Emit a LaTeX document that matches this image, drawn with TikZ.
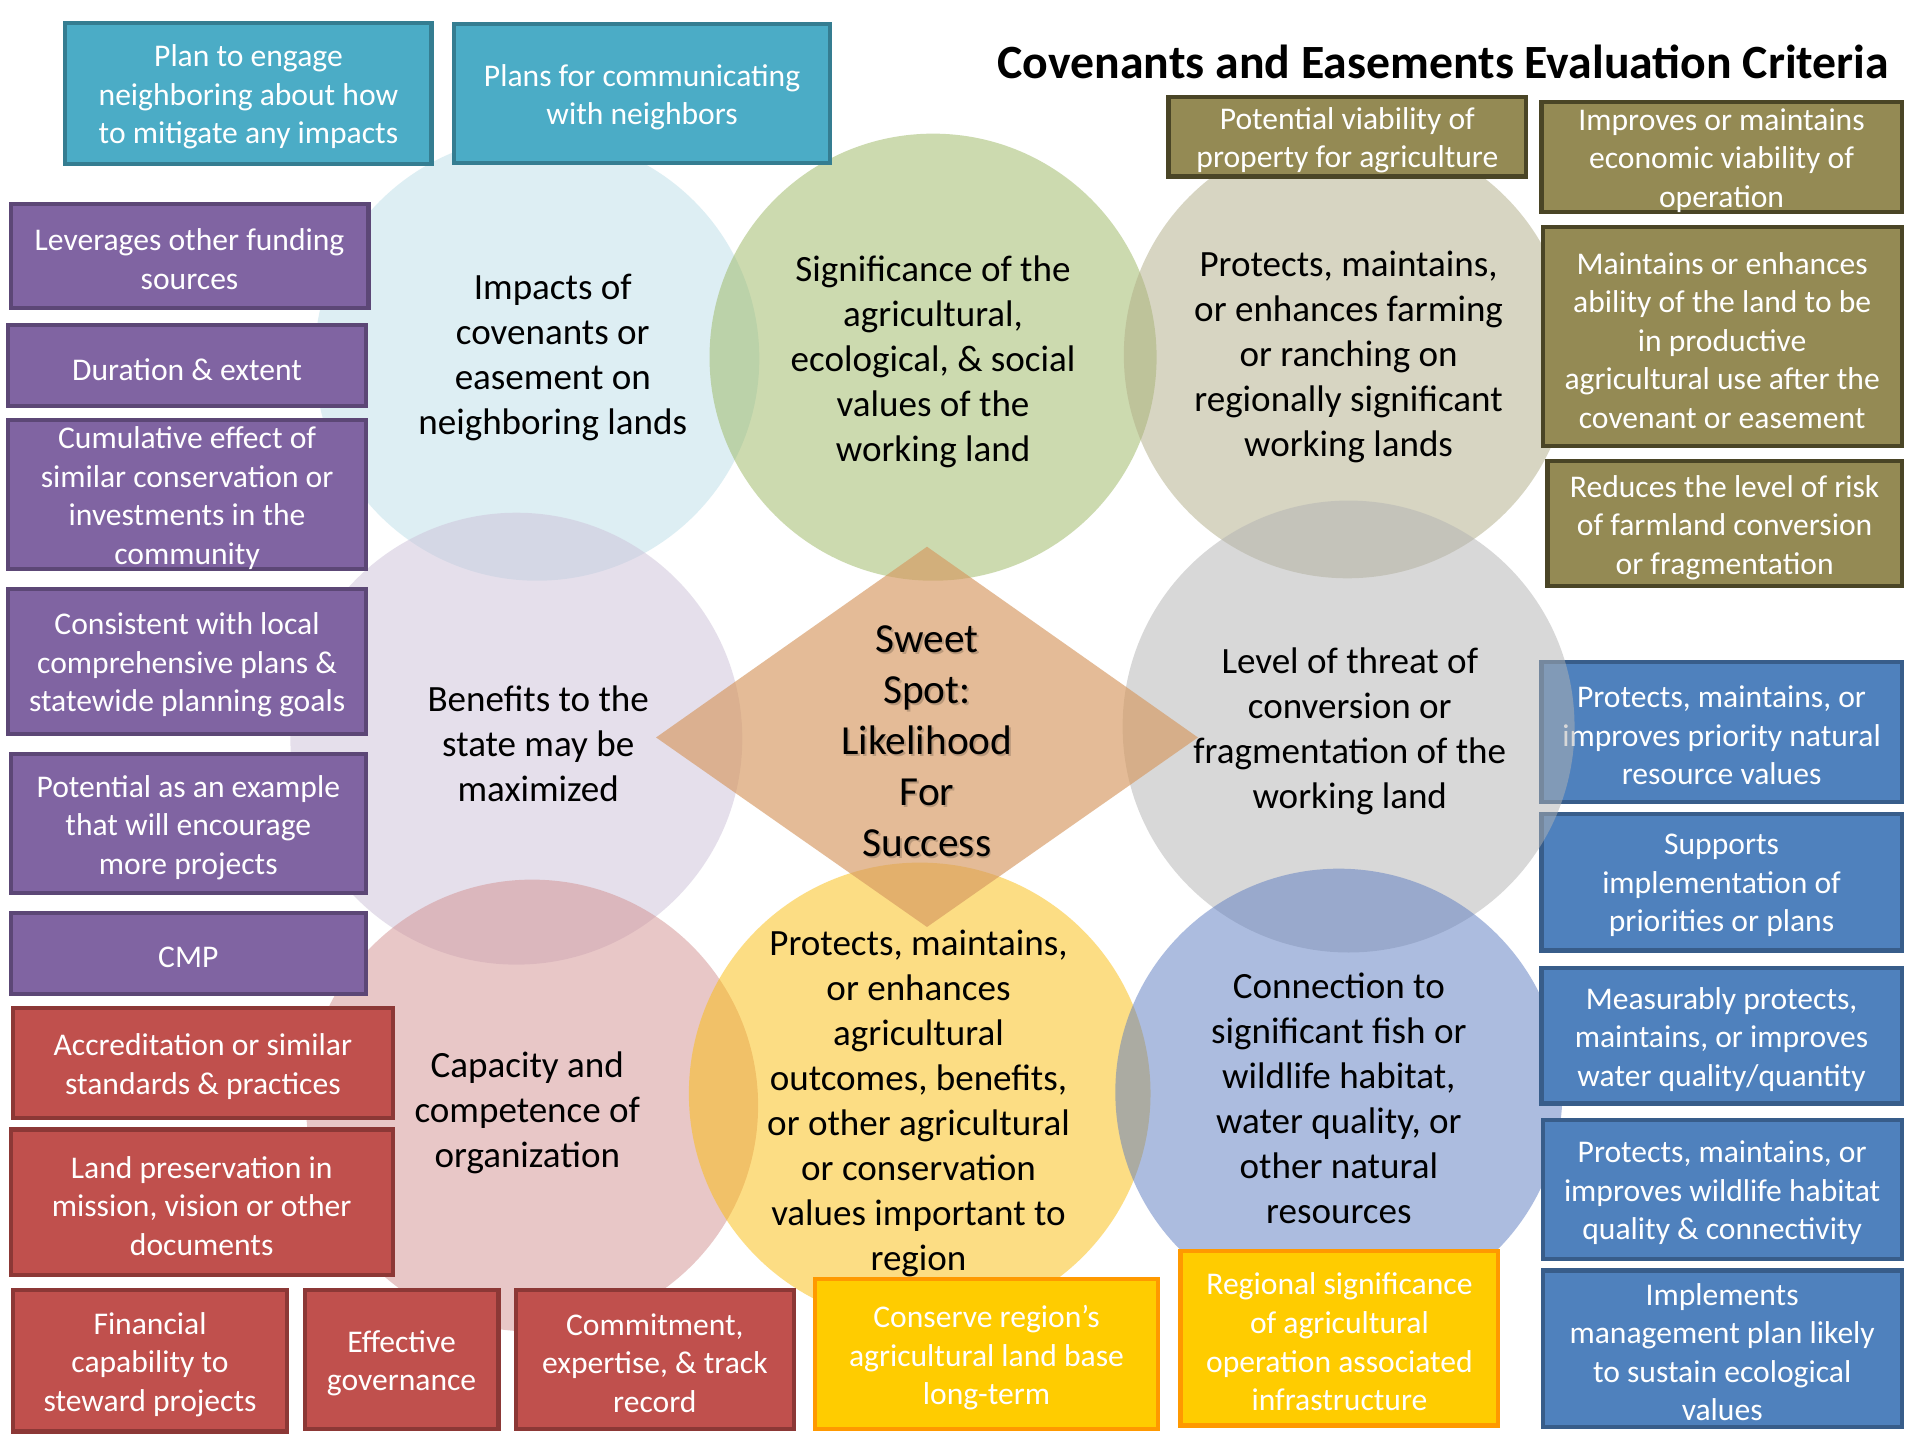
\documentclass[tikz,border=0pt]{standalone}
\usepackage{fontspec}
\setmainfont{Carlito}
\definecolor{cLB}{RGB}{189,223,233}
\definecolor{cGR}{RGB}{155,183,97}
\definecolor{cTN}{RGB}{177,173,135}
\definecolor{cLV}{RGB}{205,193,217}
\definecolor{cGY}{RGB}{179,179,179}
\definecolor{cPK}{RGB}{211,145,145}
\definecolor{cYL}{RGB}{251,189,11}
\definecolor{cBL}{RGB}{91,123,193}
\definecolor{cDM}{RGB}{214,152,96}
\definecolor{tealF}{RGB}{75,172,198}
\definecolor{tealD}{RGB}{53,125,145}
\definecolor{oliveF}{RGB}{148,138,84}
\definecolor{oliveD}{RGB}{74,69,38}
\definecolor{purpF}{RGB}{128,100,162}
\definecolor{purpD}{RGB}{92,71,118}
\definecolor{redF}{RGB}{192,80,77}
\definecolor{redD}{RGB}{140,56,54}
\definecolor{yelF}{RGB}{255,204,0}
\definecolor{yelD}{RGB}{255,153,0}
\definecolor{bluF}{RGB}{79,129,189}
\definecolor{bluD}{RGB}{56,93,138}
\tikzset{
  critstyle/.style={draw, line width=3.5pt, inner sep=0pt},
  crittext/.style={inner sep=0pt, align=center, text=white,
    font=\fontsize{26}{31.7}\selectfont},
  tealbox/.style={fill=tealF, draw=tealD},
  olivebox/.style={fill=oliveF, draw=oliveD},
  purpbox/.style={fill=purpF, draw=purpD},
  redbox/.style={fill=redF, draw=redD},
  yelbox/.style={fill=yelF, draw=yelD},
  blubox/.style={fill=bluF, draw=bluD},
  circtext/.style={align=center, text=black, inner sep=0pt, yshift=-3pt,
    font=\fontsize{30.5}{37}\selectfont},
  bubble/.style={fill opacity=0.5},
}
\newcommand\critbox[7]{%
\pgfmathsetmacro\crbX{(#3+#5)/2}%
\pgfmathsetmacro\crbY{(#4+#6)/2}%
\pgfmathsetmacro\crbW{#5-#3-3.5}%
\pgfmathsetmacro\crbH{#6-#4-3.5}%
\node[critstyle,#2,minimum width=\crbW pt,minimum height=\crbH pt] (#1) at (\crbX,\crbY) {};
\node[crittext] (#1-t) at ([yshift=-3pt]#1.center) {#7};}
\begin{document}
\begin{tikzpicture}[x=1pt,y=-1pt]
\useasboundingbox[fill=white] (0,0) rectangle (1568,1185);
% blue boxes under the grey circle
\critbox{B1}{blubox}{1267}{543}{1567}{662}{Protects, maintains, or\\improves priority natural\\resource values}
\critbox{B2}{blubox}{1267}{668}{1567}{784}{Supports\\implementation of\\priorities or plans}
% circles
\fill[cLB,bubble] (442,295) circle (183pt);
\fill[cGR,bubble] (768,294) circle (184pt);
\fill[cTN,bubble] (1109,292) circle (184pt);
\fill[cLV,bubble] (425,608) circle (186pt);
\fill[cGY,bubble] (1110,598) circle (186pt);
\fill[cPK,bubble] (438,910) circle (186pt);
\fill[cYL,bubble] (757,900) circle (190pt);
\fill[cBL,bubble] (1102,899) circle (184pt);
% diamond
\fill[cDM,fill opacity=0.65] (763,450) -- (986,607) -- (763,763) -- (540,607) -- cycle;
% title
\node[font=\bfseries\fontsize{39.3}{46}\selectfont, inner sep=0pt] (title) at (1188,51) {Covenants and Easements Evaluation Criteria};
% boxes
\critbox{T1}{tealbox}{52}{17}{357}{137}{Plan to engage\\neighboring about how\\to mitigate any impacts}
\critbox{T2}{tealbox}{372}{18}{685}{136}{Plans for communicating\\with neighbors}
\critbox{O1}{olivebox}{960}{78}{1258}{147}{Potential viability of\\property for agriculture}
\critbox{O2}{olivebox}{1267}{82}{1567}{176}{Improves or maintains\\economic viability of\\operation}
\critbox{O3}{olivebox}{1268}{185}{1567}{369}{Maintains or enhances\\ability of the land to be\\in productive\\agricultural use after the\\covenant or easement}
\critbox{O4}{olivebox}{1272}{378}{1567}{484}{Reduces the level of risk\\of farmland conversion\\or fragmentation}
\critbox{P1}{purpbox}{7}{166}{305}{255}{Leverages other funding\\sources}
\critbox{P2}{purpbox}{5}{266}{303}{336}{Duration \& extent}
\critbox{P3}{purpbox}{5}{344}{303}{470}{Cumulative effect of\\similar conservation or\\investments in the\\community}
\critbox{P4}{purpbox}{5}{483}{303}{606}{Consistent with local\\comprehensive plans \&\\statewide planning goals}
\critbox{P5}{purpbox}{7}{619}{303}{737}{Potential as an example\\that will encourage\\more projects}
\critbox{P6}{purpbox}{7}{750}{303}{820}{CMP}
\critbox{R1}{redbox}{9}{828}{325}{922}{Accreditation or similar\\standards \& practices}
\critbox{R2}{redbox}{7}{928}{325}{1051}{Land preservation in\\mission, vision or other\\documents}
\critbox{R3}{redbox}{9}{1060}{238}{1180}{Financial\\capability to\\steward projects}
\critbox{R4}{redbox}{249}{1060}{412}{1178}{Effective\\governance}
\critbox{R5}{redbox}{423}{1060}{655}{1178}{Commitment,\\expertise, \& track\\record}
\critbox{Y1}{yelbox}{669}{1051}{955}{1178}{Conserve region’s\\agricultural land base\\long-term}
\critbox{Y2}{yelbox}{970}{1028}{1235}{1175}{Regional significance\\of agricultural\\operation associated\\infrastructure}
\critbox{B3}{blubox}{1267}{795}{1567}{910}{Measurably protects,\\maintains, or improves\\water quality/quantity}
\critbox{B4}{blubox}{1268}{920}{1567}{1038}{Protects, maintains, or\\improves wildlife habitat\\quality \& connectivity}
\critbox{B5}{blubox}{1268}{1044}{1567}{1176}{Implements\\management plan likely\\to sustain ecological\\values}
% circle texts
\node[circtext] (ct1) at (455,291) {Impacts of\\covenants or\\easement on\\neighboring lands};
\node[circtext] (ct2) at (768,295) {Significance of the\\agricultural,\\ecological, \& social\\values of the\\working land};
\node[circtext] (ct3) at (1110,291) {Protects, maintains,\\or enhances farming\\or ranching on\\regionally significant\\working lands};
\node[circtext] (ct4) at (443,609) {Benefits to the\\state may be\\maximized};
\node[circtext] (ct5) at (1111,599) {Level of threat of\\conversion or\\fragmentation of the\\working land};
\node[circtext] (ct6) at (434,913) {Capacity and\\competence of\\organization};
\node[circtext] (ct7) at (756,905) {Protects, maintains,\\or enhances\\agricultural\\outcomes, benefits,\\or other agricultural\\or conservation\\values important to\\region};
\node[circtext] (ct8) at (1102,901) {Connection to\\significant fish or\\wildlife habitat,\\water quality, or\\other natural\\resources};
% sweet spot
\node[circtext, font=\fontsize{34}{42}\selectfont, text=black, text opacity=0.18] (sweetsh) at (764.5,608.5) {Sweet\\Spot:\\Likelihood\\For\\Success};
\node[circtext, font=\fontsize{34}{42}\selectfont] (sweet) at (763,607) {Sweet\\Spot:\\Likelihood\\For\\Success};
\end{tikzpicture}
\end{document}
